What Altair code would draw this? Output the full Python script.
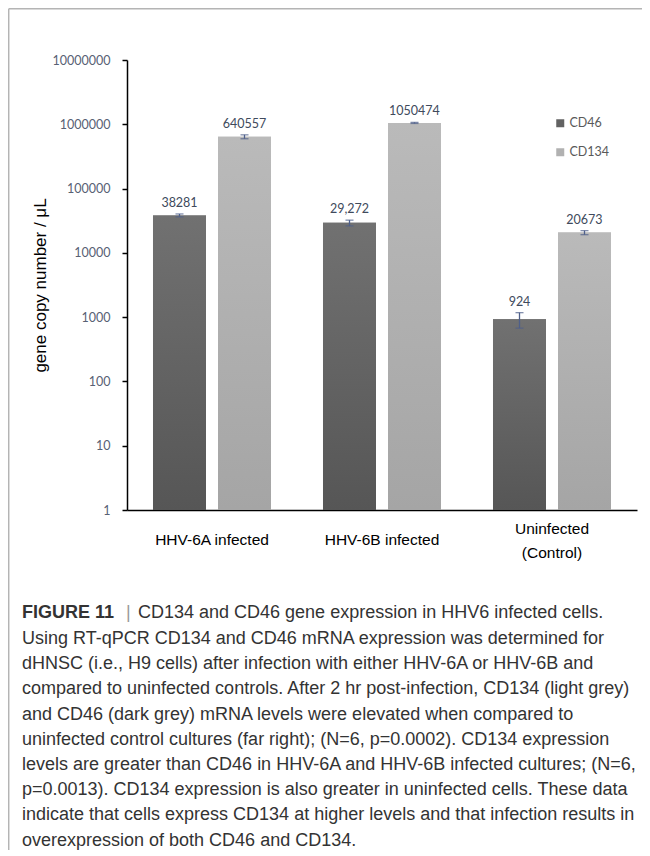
import altair as alt
import pandas as pd

# ---------------- data ----------------
categories = ["HHV-6A infected", "HHV-6B infected", "Uninfected\n(Control)"]
series = ["CD46", "CD134"]
cd46_values = [38281, 29272, 924]
cd134_values = [640557, 1050474, 20673]
cd46_err = [2000, 3000, 250]
cd134_err = [45000, 20000, 1500]
cd46_labels = ["38281", "29,272", "924"]
cd134_labels = ["640557", "1050474", "20673"]
y_ticks = [1, 10, 100, 1000, 10000, 100000, 1000000, 10000000]
y_title = "gene copy number / μL"

caption_head = "FIGURE 11"
caption_sep = "|"
caption_first = "CD134 and CD46 gene expression in HHV6 infected cells."
caption_lines = [
    "Using RT-qPCR CD134 and CD46 mRNA expression was determined for",
    "dHNSC (i.e., H9 cells) after infection with either HHV-6A or HHV-6B and",
    "compared to uninfected controls. After 2 hr post-infection, CD134 (light grey)",
    "and CD46 (dark grey) mRNA levels were elevated when compared to",
    "uninfected control cultures (far right); (N=6, p=0.0002). CD134 expression",
    "levels are greater than CD46 in HHV-6A and HHV-6B infected cultures; (N=6,",
    "p=0.0013). CD134 expression is also greater in uninfected cells. These data",
    "indicate that cells express CD134 at higher levels and that infection results in",
    "overexpression of both CD46 and CD134.",
]

rows = []
for i, c in enumerate(categories):
    rows.append(dict(category=c, series="CD46", value=cd46_values[i],
                     lo=cd46_values[i] - cd46_err[i], hi=cd46_values[i] + cd46_err[i],
                     label=cd46_labels[i]))
    rows.append(dict(category=c, series="CD134", value=cd134_values[i],
                     lo=cd134_values[i] - cd134_err[i], hi=cd134_values[i] + cd134_err[i],
                     label=cd134_labels[i]))
df = pd.DataFrame(rows)

# category label lines (for the category axis labels)
cat_rows = []
for c in categories:
    parts = c.split("\n")
    for j, p in enumerate(parts):
        cat_rows.append(dict(category=c, text=p, n=len(parts), j=j))
cat_df = pd.DataFrame(cat_rows)

# ---------------- encodings ----------------
W, H = 510, 450

x_axis = alt.Axis(
    title=None, labels=False, ticks=False, tickSize=0,
    domainColor="black", domainWidth=1.5,
)
y_axis = alt.Axis(
    values=y_ticks, format="d", title=y_title,
    titleFont="Liberation Sans", titleFontSize=17, titleFontWeight="normal",
    titleColor="black", titleAngle=-90, titleX=-87, titleY=225,
    titleAlign="center", titleBaseline="middle",
    labelFont="Lato", labelFontSize=12.5, labelColor="#586174", labelPadding=12,
    tickSize=5, tickColor="black", tickWidth=1.5,
    domainColor="black", domainWidth=1.5, grid=False,
)
x_scale = alt.Scale(domain=categories, paddingInner=0, paddingOuter=0)
off_scale = alt.Scale(domain=series, paddingInner=0.1846, paddingOuter=0.4)
y_scale = alt.Scale(type="log", domain=[1, 10000000])

X = alt.X("category:N", sort=categories, scale=x_scale, axis=x_axis)
XO = alt.XOffset("series:N", sort=series, scale=off_scale)

def Y(field):
    return alt.Y(field, type="quantitative", scale=y_scale, axis=y_axis)

base = alt.Chart(df)

bars = base.mark_bar().encode(
    x=X, xOffset=XO, y=Y("value"), y2=alt.datum(1),
    color=alt.Color("series:N", sort=series,
                    scale=alt.Scale(domain=series, range=["#626262", "#b1b1b1"]),
                    legend=alt.Legend(title=None, orient="none", legendX=427, legendY=57,
                                      symbolType="square", symbolSize=64, symbolStrokeWidth=0,
                                      labelFont="Lato", labelFontSize=12.5, labelColor="#595959",
                                      rowPadding=16, labelOffset=3, padding=0)),
)

def grad(top, bottom):
    return alt.Gradient(gradient="linear",
                        stops=[alt.GradientStop(color=top, offset=0),
                               alt.GradientStop(color=bottom, offset=1)],
                        x1=0, x2=0, y1=0, y2=1)

bars46 = base.transform_filter(alt.datum.series == "CD46").mark_bar(
    color=grad("#717171", "#565656")).encode(x=X, xOffset=XO, y=Y("value"), y2=alt.datum(1))
bars134 = base.transform_filter(alt.datum.series == "CD134").mark_bar(
    color=grad("#bababa", "#a5a5a5")).encode(x=X, xOffset=XO, y=Y("value"), y2=alt.datum(1))

err_color = "#4e5f8a"
err = base.mark_rule(color=err_color, strokeWidth=1.3).encode(
    x=X, xOffset=XO, y=Y("lo"), y2="hi:Q")
cap_hi = base.mark_tick(color=err_color, size=8, thickness=1.3, orient="horizontal").encode(
    x=X, xOffset=XO, y=Y("hi"))
cap_lo = base.mark_tick(color=err_color, size=8, thickness=1.3, orient="horizontal").encode(
    x=X, xOffset=XO, y=Y("lo"))

labels = base.mark_text(baseline="bottom", dy=-4, font="Lato", fontSize=12.5,
                        color="#404a5c").encode(x=X, xOffset=XO, y=Y("hi"), text="label:N")

# category labels under the axis
cat_base = alt.Chart(cat_df)
cat_style = dict(align="center", baseline="middle", font="Liberation Sans",
                 fontSize=15.5, color="black")
cat_single = cat_base.transform_filter(alt.datum.n == 1).mark_text(**cat_style).encode(
    x=X, y=alt.value(H + 30), text="text:N")
cat_first = cat_base.transform_filter((alt.datum.n == 2) & (alt.datum.j == 0)).mark_text(
    **cat_style).encode(x=X, y=alt.value(H + 19), text="text:N")
cat_second = cat_base.transform_filter((alt.datum.n == 2) & (alt.datum.j == 1)).mark_text(
    **cat_style).encode(x=X, y=alt.value(H + 43), text="text:N")

one = alt.Chart(pd.DataFrame({"k": [0]}))
frame_left = one.mark_rule(color="#b4b4b4", strokeWidth=1.5).encode(
    x=alt.value(-118.3), y=alt.value(-51.3), y2=alt.value(800))
frame_top = one.mark_rule(color="#b4b4b4", strokeWidth=1.5).encode(
    x=alt.value(-118.3), x2=alt.value(520), y=alt.value(-51.3))

cap_font = "Liberation Sans"
cap_size = 18
cap_color = "#333333"
head = one.mark_text(align="left", baseline="middle", font=cap_font, fontSize=cap_size,
                     fontWeight="bold", color=cap_color).encode(
    x=alt.value(-105), y=alt.value(553), text=alt.value(caption_head))
sep = one.mark_text(align="left", baseline="middle", font=cap_font, fontSize=cap_size,
                    color="#9a9a9a").encode(
    x=alt.value(-1), y=alt.value(553), text=alt.value(caption_sep))
first = one.mark_text(align="left", baseline="middle", font=cap_font, fontSize=cap_size,
                      color=cap_color).encode(
    x=alt.value(11), y=alt.value(553), text=alt.value(caption_first))
body = one.mark_text(align="left", baseline="top", font=cap_font, fontSize=cap_size,
                     color=cap_color, lineHeight=25.2).encode(
    x=alt.value(-105), y=alt.value(570), text=alt.value(caption_lines))

chart = alt.layer(
    frame_left, frame_top, bars, bars46, bars134, err, cap_hi, cap_lo, labels,
    cat_single, cat_first, cat_second,
    head, sep, first, body,
).properties(
    width=W, height=H,
    padding={"left": 119, "top": 52, "right": 5, "bottom": 340},
    autosize=alt.AutoSizeParams(type="none"),
    background="white",
).configure_view(strokeWidth=0, stroke="transparent")

chart.save("out.html", embed_options={"renderer": "svg", "actions": False})
